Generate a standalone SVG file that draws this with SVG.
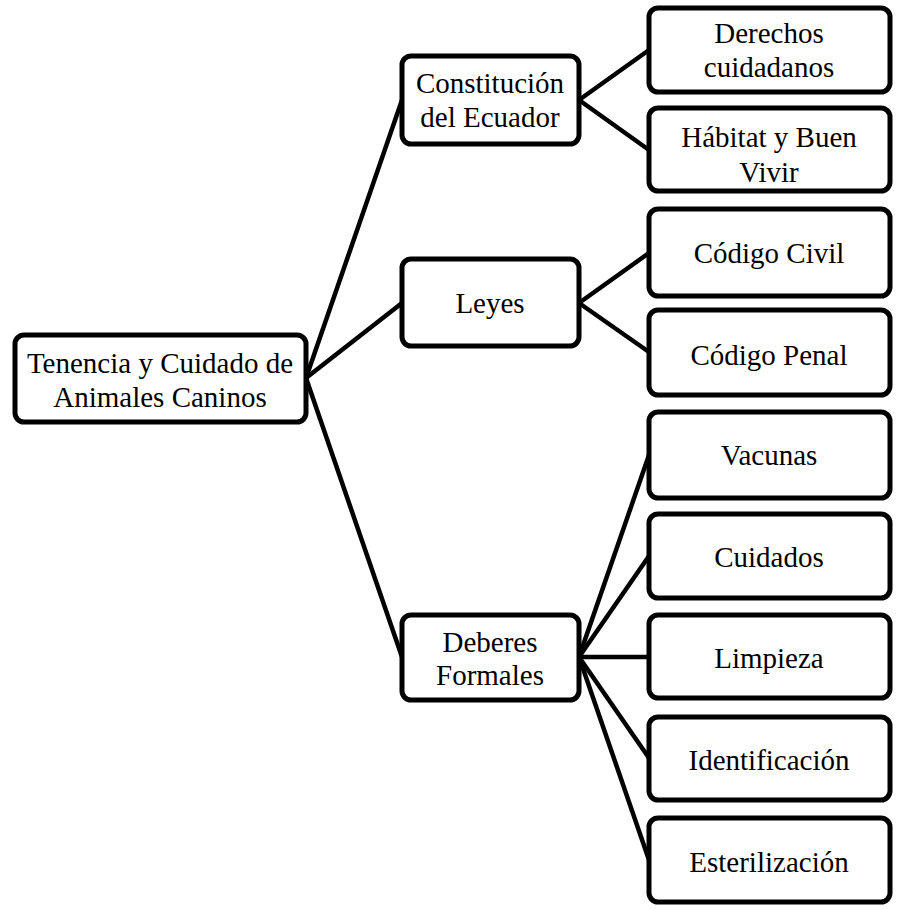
<svg xmlns="http://www.w3.org/2000/svg" width="899" height="910" viewBox="0 0 899 910">
<style>
.box{fill:#fff;stroke:#000;stroke-width:5}
.c line{stroke:#000;stroke-width:4.5}
text{font-size:29px;fill:#000;text-anchor:middle}
</style>
<rect width="899" height="910" fill="#fff"/>
<g class="c" id="connectors">
<line x1="306" y1="378" x2="402" y2="100"/>
<line x1="306" y1="378" x2="402" y2="303"/>
<line x1="306" y1="378" x2="402" y2="657"/>
<line x1="579" y1="100" x2="649" y2="50"/>
<line x1="579" y1="100" x2="649" y2="150"/>
<line x1="579" y1="303" x2="649" y2="253"/>
<line x1="579" y1="303" x2="649" y2="352"/>
<line x1="579" y1="657" x2="649" y2="455"/>
<line x1="579" y1="657" x2="649" y2="556"/>
<line x1="579" y1="657" x2="649" y2="657"/>
<line x1="579" y1="657" x2="649" y2="758"/>
<line x1="579" y1="657" x2="649" y2="860"/>
</g>
<g font-family="'Liberation Serif', 'Times New Roman', 'DejaVu Serif', serif">
<g id="root"><rect class="box" x="15" y="335" width="291" height="87" rx="9"/><text x="160" y="373">Tenencia y Cuidado de</text><text x="160" y="407">Animales Caninos</text></g>
<g id="constitucion"><rect class="box" x="402" y="56" width="177" height="88" rx="9"/><text x="490" y="93">Constitución</text><text x="490" y="127">del Ecuador</text></g>
<g id="leyes"><rect class="box" x="402" y="259" width="177" height="87" rx="9"/><text x="490" y="313">Leyes</text></g>
<g id="deberes"><rect class="box" x="402" y="615" width="177" height="85" rx="9"/><text x="490" y="652">Deberes</text><text x="490" y="685">Formales</text></g>
<g id="derechos"><rect class="box" x="649" y="8" width="241" height="84" rx="9"/><text x="769" y="43">Derechos</text><text x="769" y="77">cuidadanos</text></g>
<g id="habitat"><rect class="box" x="649" y="108" width="241" height="83" rx="9"/><text x="769" y="147">Hábitat y Buen</text><text x="769" y="182">Vivir</text></g>
<g id="civil"><rect class="box" x="649" y="209" width="241" height="87" rx="9"/><text x="769" y="263">Código Civil</text></g>
<g id="penal"><rect class="box" x="649" y="310" width="241" height="85" rx="9"/><text x="769" y="365">Código Penal</text></g>
<g id="vacunas"><rect class="box" x="649" y="412" width="241" height="86" rx="9"/><text x="769" y="465">Vacunas</text></g>
<g id="cuidados"><rect class="box" x="649" y="514" width="241" height="84" rx="9"/><text x="769" y="567">Cuidados</text></g>
<g id="limpieza"><rect class="box" x="649" y="615" width="241" height="83" rx="9"/><text x="769" y="668">Limpieza</text></g>
<g id="identificacion"><rect class="box" x="649" y="717" width="241" height="83" rx="9"/><text x="769" y="770">Identificación</text></g>
<g id="esterilizacion"><rect class="box" x="649" y="818" width="241" height="84" rx="9"/><text x="769" y="872">Esterilización</text></g>
</g>
</svg>
